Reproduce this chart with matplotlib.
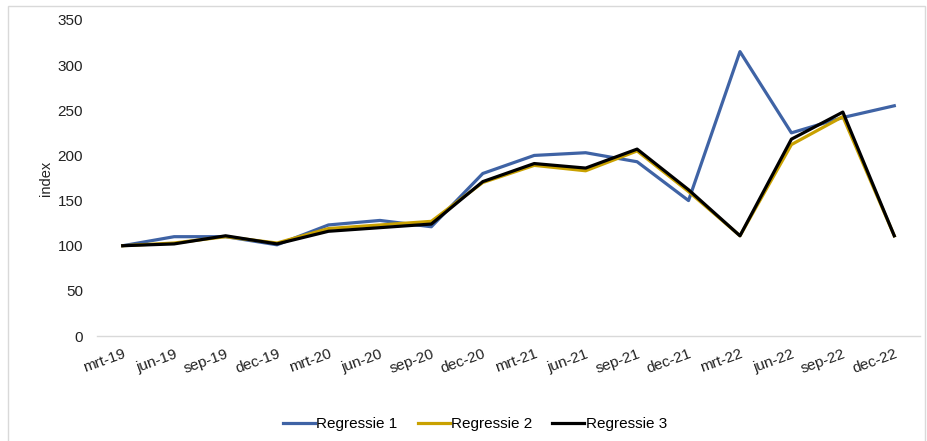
import matplotlib
matplotlib.use("Agg")
import matplotlib.pyplot as plt
from matplotlib.patches import Rectangle

plt.rcParams['font.family'] = ['Liberation Sans', 'DejaVu Sans']

quarters = ["mrt-19", "jun-19", "sep-19", "dec-19", "mrt-20", "jun-20", "sep-20", "dec-20",
            "mrt-21", "jun-21", "sep-21", "dec-21", "mrt-22", "jun-22", "sep-22", "dec-22"]
regressie_1 = [100, 110, 110, 101, 123, 128, 121, 180, 200, 203, 193, 150, 315, 225, 242, 255]
regressie_2 = [100, 103, 110, 103, 119, 123, 127, 170, 189, 183, 205, 160, 111, 212, 243, 111]
regressie_3 = [100, 102, 111, 102, 116, 120, 124, 171, 191, 186, 207, 162, 111, 218, 248, 111]
y_ticks = [0, 50, 100, 150, 200, 250, 300, 350]

W, H = 927, 441
fig = plt.figure(figsize=(W / 100, H / 100), dpi=100)
fig.patch.set_facecolor("white")
fig.add_artist(Rectangle((8 / W, -2 / H), (925 - 8) / W, (H - 6 + 2) / H,
                         transform=fig.transFigure, fill=False,
                         edgecolor="#d9d9d9", linewidth=1.0))

ax = fig.add_axes([97 / W, (H - 336) / H, (920 - 97) / W, (336 - 20) / H])
x = list(range(len(quarters)))
ax.plot(x, regressie_1, color="#3F63A5", linewidth=2.3, label="Regressie 1")
ax.plot(x, regressie_2, color="#C9A100", linewidth=2.3, label="Regressie 2")
ax.plot(x, regressie_3, color="#000000", linewidth=2.3, label="Regressie 3")

ax.set_xlim(-0.5, len(quarters) - 0.5)
ax.set_ylim(0, 350)
ax.set_yticks(y_ticks)
ax.set_xticks(x)
ax.set_xticklabels(quarters, rotation=20, ha="right", rotation_mode="anchor")
ax.tick_params(axis="both", length=0, labelsize=11, colors="#222222")
ax.tick_params(axis="x", pad=8)
ax.tick_params(axis="y", pad=10)
for s in ["top", "right", "left"]:
    ax.spines[s].set_visible(False)
ax.spines["bottom"].set_color("#d9d9d9")
ax.spines["bottom"].set_linewidth(1.0)
ax.set_ylabel("index", fontsize=10.5, color="#222222", labelpad=3)

fig.legend(loc="center", bbox_to_anchor=(475 / W, 1 - 424 / H), ncol=3, frameon=False,
           fontsize=11, handlelength=2.1, handletextpad=0.1, columnspacing=1.3)

fig.savefig("out.png", dpi=100)
